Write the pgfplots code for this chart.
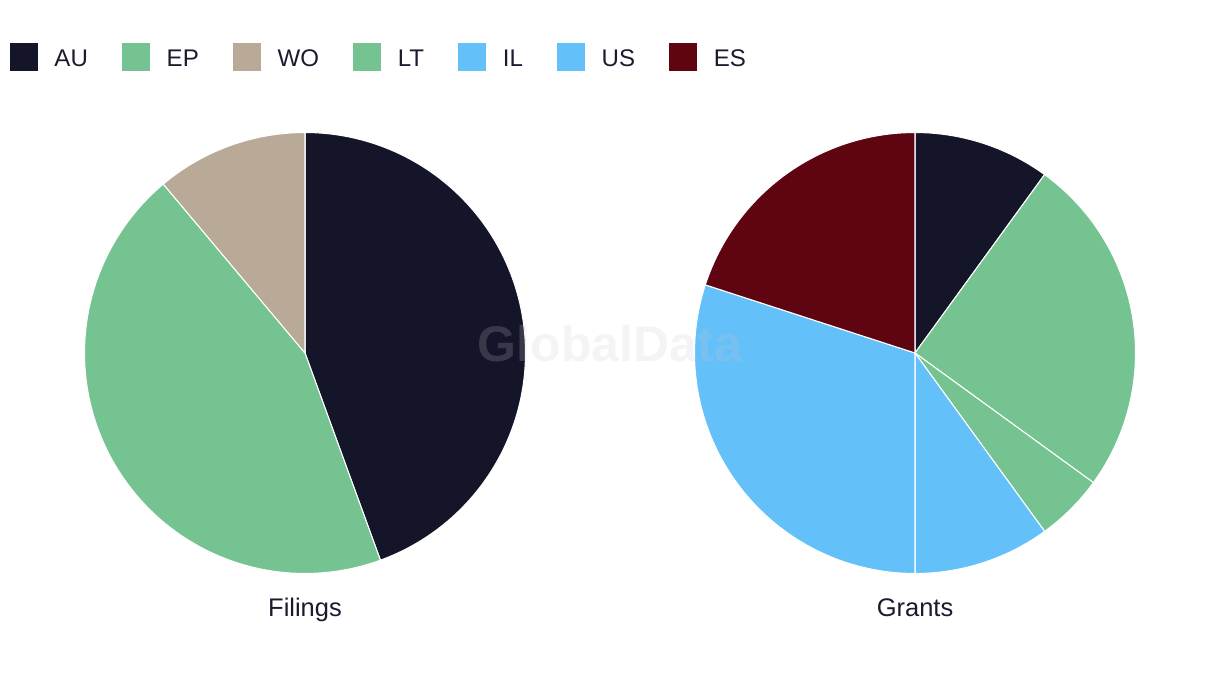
\documentclass[border=0pt]{standalone}
\usepackage{pgfplots}
\pgfplotsset{compat=1.18}
\usepackage{fontspec}
\setmainfont{Liberation Sans}
\definecolor{cAU}{HTML}{141529}
\definecolor{cEP}{HTML}{74C391}
\definecolor{cWO}{HTML}{B8AA97}
\definecolor{cLT}{HTML}{74C391}
\definecolor{cIL}{HTML}{63C0F9}
\definecolor{cUS}{HTML}{63C0F9}
\definecolor{cES}{HTML}{5E0511}
\definecolor{txt}{HTML}{1A1B2E}
% data: Filings
\def\fAU{4}\def\fEP{4}\def\fWO{1}
% data: Grants
\def\gAU{2}\def\gEP{5}\def\gLT{1}\def\gIL{2}\def\gUS{6}\def\gES{4}
\newcommand{\slice}[4]{% color, from angle, to angle, center x
  \addplot[fill=#1, draw=white, line width=0.6pt, domain=#3:#2, samples=120, forget plot]
    ({#4+220.5*cos(x)},{333+220.5*sin(x)}) -- (axis cs:#4,333) -- cycle;
}
\begin{document}
\begin{tikzpicture}
\useasboundingbox (0,0) rectangle (24.4cm,13.72cm);
\pgfmathsetmacro\fT{\fAU+\fEP+\fWO}
\pgfmathsetmacro\fa{90}
\pgfmathsetmacro\fb{\fa-360*\fAU/\fT}
\pgfmathsetmacro\fc{\fb-360*\fEP/\fT}
\pgfmathsetmacro\fd{\fc-360*\fWO/\fT}
\pgfmathsetmacro\gT{\gAU+\gEP+\gLT+\gIL+\gUS+\gES}
\pgfmathsetmacro\ga{90}
\pgfmathsetmacro\gb{\ga-360*\gAU/\gT}
\pgfmathsetmacro\gc{\gb-360*\gEP/\gT}
\pgfmathsetmacro\gd{\gc-360*\gLT/\gT}
\pgfmathsetmacro\gE{\gd-360*\gIL/\gT}
\pgfmathsetmacro\gf{\gE-360*\gUS/\gT}
\pgfmathsetmacro\gg{\gf-360*\gES/\gT}
\begin{axis}[
  at={(0,0)}, anchor=south west,
  scale only axis, width=24.4cm, height=13.72cm,
  xmin=0, xmax=1220, ymin=0, ymax=686,
  hide axis, clip=false,
  legend columns=-1,
  legend image code/.code={\fill[#1, draw=none] (0cm,-0.275cm) rectangle (0.56cm,0.275cm);},
  legend style={at={(axis cs:10,629)}, anchor=west, draw=none, fill=none,
    inner sep=0pt, outer sep=0pt,
    nodes={inner sep=0pt, text=txt, font=\fontsize{13.7}{16}\selectfont, yshift=-1.5pt},
    /tikz/every odd column/.append style={column sep=0.33cm},
    /tikz/every even column/.append style={column sep=0.685cm}},
]
\slice{cAU}{\fa}{\fb}{305}
\slice{cEP}{\fb}{\fc}{305}
\slice{cWO}{\fc}{\fd}{305}
\slice{cAU}{\ga}{\gb}{915}
\slice{cEP}{\gb}{\gc}{915}
\slice{cLT}{\gc}{\gd}{915}
\slice{cIL}{\gd}{\gE}{915}
\slice{cUS}{\gE}{\gf}{915}
\slice{cES}{\gf}{\gg}{915}
\addlegendimage{fill=cAU, draw=none}\addlegendentry{AU}
\addlegendimage{fill=cEP, draw=none}\addlegendentry{EP}
\addlegendimage{fill=cWO, draw=none}\addlegendentry{WO}
\addlegendimage{fill=cLT, draw=none}\addlegendentry{LT}
\addlegendimage{fill=cIL, draw=none}\addlegendentry{IL}
\addlegendimage{fill=cUS, draw=none}\addlegendentry{US}
\addlegendimage{fill=cES, draw=none}\addlegendentry{ES}
\node[text=txt, anchor=base, font=\fontsize{14.5}{17}\selectfont] at (axis cs:305,69) {Filings};
\node[text=txt, anchor=base, font=\fontsize{14.5}{17}\selectfont] at (axis cs:915,69) {Grants};
\node[text={rgb,255:red,200;green,200;blue,205}, opacity=0.2, font=\bfseries\fontsize{28.5}{32}\selectfont] at (axis cs:610,342) {GlobalData};
\end{axis}
\end{tikzpicture}
\end{document}
